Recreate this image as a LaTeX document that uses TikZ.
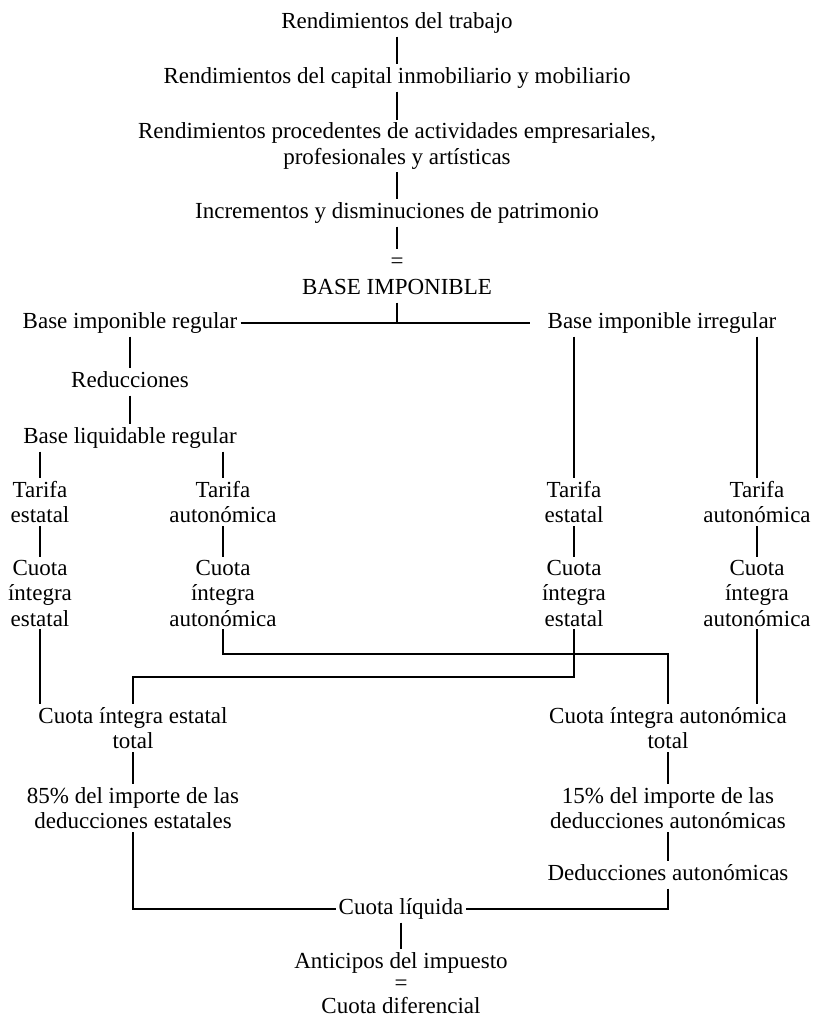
\documentclass[tikz,border=0pt]{standalone}
\usepackage{fontspec}
\setmainfont{Liberation Serif}

\tikzset{
  texto/.style={font=\fontsize{23}{25.5}\selectfont, inner sep=3pt, text height=16pt, text depth=5pt},
  bloque/.style={font=\fontsize{23}{25.5}\selectfont, inner sep=3pt, align=center},
  linea/.style={black, line width=1.3pt},
}

\begin{document}
\begin{tikzpicture}[x=1pt, y=-1pt]
        % Definiciones
        \def\centro{397}
        \def\colA{40}
        \def\colB{223}
        \def\colC{574}
        \def\colD{757}
        \useasboundingbox (0,0) rectangle (815,1022);
        % Rendimientos
        \node[texto] (trabajo) at (\centro,23) {Rendimientos del trabajo};
        \node[texto] (capital) at (\centro,78) {Rendimientos del capital inmobiliario y mobiliario};
        \node[bloque] (actividades) at (\centro,146) {Rendimientos procedentes de actividades empresariales,\\profesionales y artísticas};
        \node[texto] (incrementos) at (\centro,213) {Incrementos y disminuciones de patrimonio};
        \node[texto] (igualA) at (\centro,263) {=};
        \node[texto] (base) at (\centro,289) {BASE IMPONIBLE};
        % Bases regular e irregular
        \node[texto] (bireg) at (130,323) {Base imponible regular};
        \node[texto] (biirr) at (662,323) {Base imponible irregular};
        \node[texto] (reducciones) at (130,382) {Reducciones};
        \node[texto] (liqreg) at (130,438) {Base liquidable regular};
        % Tarifas
        \node[bloque] (tarEL) at (\colA,502) {Tarifa\\estatal};
        \node[bloque] (tarAL) at (\colB,502) {Tarifa\\autonómica};
        \node[bloque] (tarER) at (\colC,502) {Tarifa\\estatal};
        \node[bloque] (tarAR) at (\colD,502) {Tarifa\\autonómica};
        % Cuotas integras
        \node[bloque] (cieEL) at (\colA,593) {Cuota\\íntegra\\estatal};
        \node[bloque] (cieAL) at (\colB,593) {Cuota\\íntegra\\autonómica};
        \node[bloque] (cieER) at (\colC,593) {Cuota\\íntegra\\estatal};
        \node[bloque] (cieAR) at (\colD,593) {Cuota\\íntegra\\autonómica};
        \node[bloque] (cietot) at (133,728) {Cuota íntegra estatal\\total};
        \node[bloque] (ciatot) at (668,728) {Cuota íntegra autonómica\\total};
        % Deducciones
        \node[bloque] (ded85) at (133,808) {85\% del importe de las\\deducciones estatales};
        \node[bloque] (ded15) at (668,808) {15\% del importe de las\\deducciones autonómicas};
        \node[texto] (dedaut) at (668,875) {Deducciones autonómicas};
        % Cuota liquida y diferencial
        \node[texto] (liquida) at (401,909) {Cuota líquida};
        \node[texto] (anticipos) at (401,963) {Anticipos del impuesto};
        \node[texto] (igualB) at (401,985) {=};
        \node[texto] (diferencial) at (401,1008) {Cuota diferencial};
        % Lineas superiores
        \draw[linea] (trabajo) -- (capital);
        \draw[linea] (capital) -- (actividades);
        \draw[linea] (actividades) -- (incrementos);
        \draw[linea] (incrementos) -- (igualA);
        \draw[linea] (base) -- (base |- bireg);
        \draw[linea, shorten >=14pt] (bireg) -- (biirr);
        \draw[linea] (bireg) -- (reducciones);
        \draw[linea] (reducciones) -- (liqreg);
        % Lineas a tarifas
        \draw[linea] (liqreg.south -| tarEL) -- (tarEL);
        \draw[linea] (liqreg.south -| tarAL) -- (tarAL);
        \draw[linea] (biirr.south -| tarER) -- (tarER);
        \draw[linea] (biirr.south -| tarAR) -- (tarAR);
        \foreach \c in {EL,AL,ER,AR}
            \draw[linea] (tar\c) -- (cie\c);
        % Cruces
        \coordinate (cruceE) at (133,677);
        \coordinate (cruceA) at (668,654);
        \draw[linea] (cieEL) -- (cieEL |- cietot.north);
        \draw[linea] (cieER) |- (cruceE) -- (cietot);
        \draw[linea] (cieAL) |- (cruceA) -- (ciatot);
        \draw[linea] (cieAR) -- (cieAR |- ciatot.north);
        % Lineas inferiores
        \draw[linea] (cietot) -- (ded85);
        \draw[linea] (ciatot) -- (ded15);
        \draw[linea] (ded15) -- (dedaut);
        \draw[linea] (ded85) |- (liquida);
        \draw[linea] (dedaut) |- (liquida);
        \draw[linea] (liquida) -- (anticipos);
\end{tikzpicture}
\end{document}
